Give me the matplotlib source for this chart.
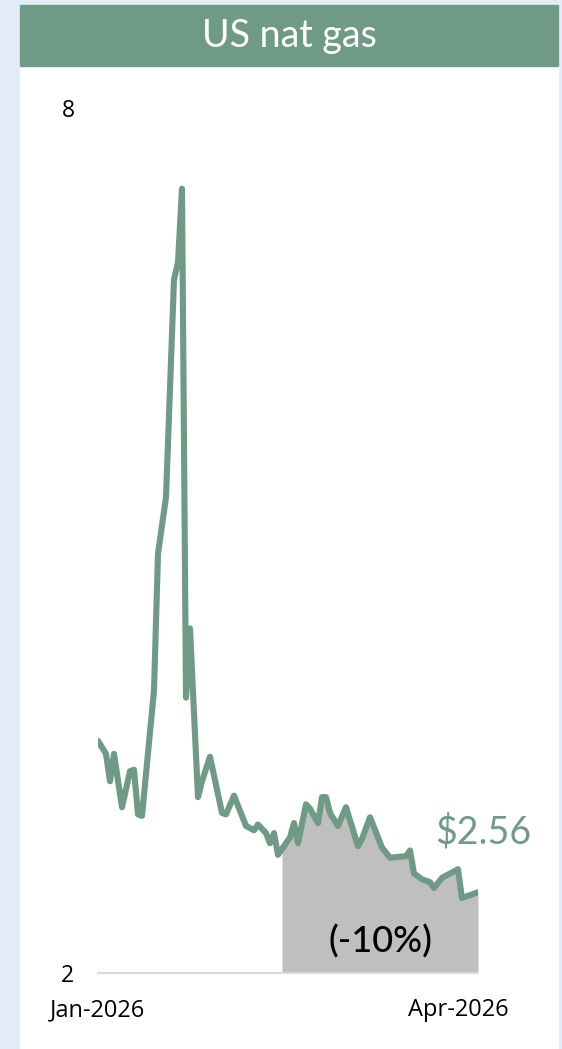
import numpy as np
import pandas as pd
import matplotlib
matplotlib.use('Agg')
import matplotlib.pyplot as plt
import matplotlib.dates as mdates
from matplotlib.patches import Rectangle

# datos (precio gas natural EEUU, $/MMBtu)
dates = ['2026-01-01', '2026-01-03', '2026-01-04', '2026-01-05', '2026-01-07',
         '2026-01-09', '2026-01-10', '2026-01-11', '2026-01-12', '2026-01-15',
         '2026-01-16', '2026-01-18', '2026-01-20', '2026-01-21', '2026-01-22',
         '2026-01-23', '2026-01-24', '2026-01-26', '2026-01-27', '2026-01-29',
         '2026-02-01', '2026-02-02', '2026-02-04', '2026-02-07', '2026-02-09',
         '2026-02-10', '2026-02-12', '2026-02-13', '2026-02-14', '2026-02-15',
         '2026-02-16', '2026-02-18', '2026-02-19', '2026-02-20', '2026-02-22',
         '2026-02-23', '2026-02-25', '2026-02-26', '2026-02-27', '2026-02-28',
         '2026-03-02', '2026-03-04', '2026-03-07', '2026-03-08', '2026-03-10',
         '2026-03-13', '2026-03-15', '2026-03-19', '2026-03-20', '2026-03-21',
         '2026-03-23', '2026-03-25', '2026-03-26', '2026-03-28', '2026-03-30',
         '2026-04-01', '2026-04-02', '2026-04-06']
prices = [3.61, 3.52, 3.33, 3.52, 3.15,
          3.40, 3.41, 3.10, 3.09, 3.96,
          4.91, 5.30, 6.81, 6.93, 7.44,
          3.91, 4.39, 3.22, 3.33, 3.50,
          3.11, 3.10, 3.23, 3.02, 2.99,
          3.03, 2.97, 2.90, 2.97, 2.82,
          2.86, 2.94, 3.04, 2.90, 3.17,
          3.14, 3.04, 3.22, 3.22, 3.11,
          3.02, 3.15, 2.88, 2.93, 3.08,
          2.87, 2.80, 2.81, 2.85, 2.69,
          2.65, 2.63, 2.59, 2.66, 2.69,
          2.72, 2.52, 2.56]
shade_start = '2026-02-16'
title = 'US nat gas'
last_label = '$2.56'
change_label = '(-10%)'
tick_dates = ['2026-01-01', '2026-04-01']

green = '#6f9a86'
W, H = 562, 1049

x = pd.to_datetime(dates)
y = np.array(prices)

fig = plt.figure(figsize=(W / 100, H / 100), dpi=100)
fig.patch.set_facecolor('#e2ecf7')

# panel blanco y barra de titulo
fig.add_artist(Rectangle((20 / W, 0), 537.5 / W, 1 - 5 / H,
                         transform=fig.transFigure, color='white', zorder=0))
fig.add_artist(Rectangle((20 / W, 1 - 66 / H), 537.5 / W, 61 / H,
                         transform=fig.transFigure, color=green, zorder=1))
fig.text(289 / W, 1 - 36 / H, title, color='white', fontsize=27,
         family='Lato', ha='center', va='center')

ax = fig.add_axes([98 / W, 1 - 973 / H, 380 / W, 865 / H])
ax.set_facecolor('none')

mask = x >= pd.Timestamp(shade_start)
ax.fill_between(x[mask], 2, y[mask], color='#bfbfbf', lw=0, zorder=1)
ax.plot(x, y, color=green, lw=4.4, solid_joinstyle='round',
        solid_capstyle='round', zorder=3)

ax.set_xlim(x[0], x[-1])
ax.set_ylim(2, 8)
ax.set_yticks([2, 8])
ax.set_xticks(pd.to_datetime(tick_dates))
ax.xaxis.set_major_formatter(mdates.DateFormatter('%b-%Y'))

for s in ['top', 'right', 'left']:
    ax.spines[s].set_visible(False)
ax.spines['bottom'].set_color('#d9d9d9')
ax.spines['bottom'].set_linewidth(1.5)
ax.tick_params(length=0)
ax.tick_params(axis='y', pad=17, labelsize=16.5)
ax.tick_params(axis='x', pad=18, labelsize=17)
for lab in ax.get_xticklabels() + ax.get_yticklabels():
    lab.set_family('Open Sans')

# etiquetas
ax.annotate(last_label, xy=(x[-1], y[-1]), xytext=(4, 43),
            textcoords='offset points', ha='center', va='center',
            color=green, fontsize=27, family='Lato')
mid = x[mask][0] + (x[-1] - x[mask][0]) / 2
ax.text(mid, 2.22, change_label, ha='center', va='center',
        color='black', fontsize=26, family='Lato', weight='medium')

fig.savefig('out.png', dpi=100, facecolor=fig.get_facecolor())
